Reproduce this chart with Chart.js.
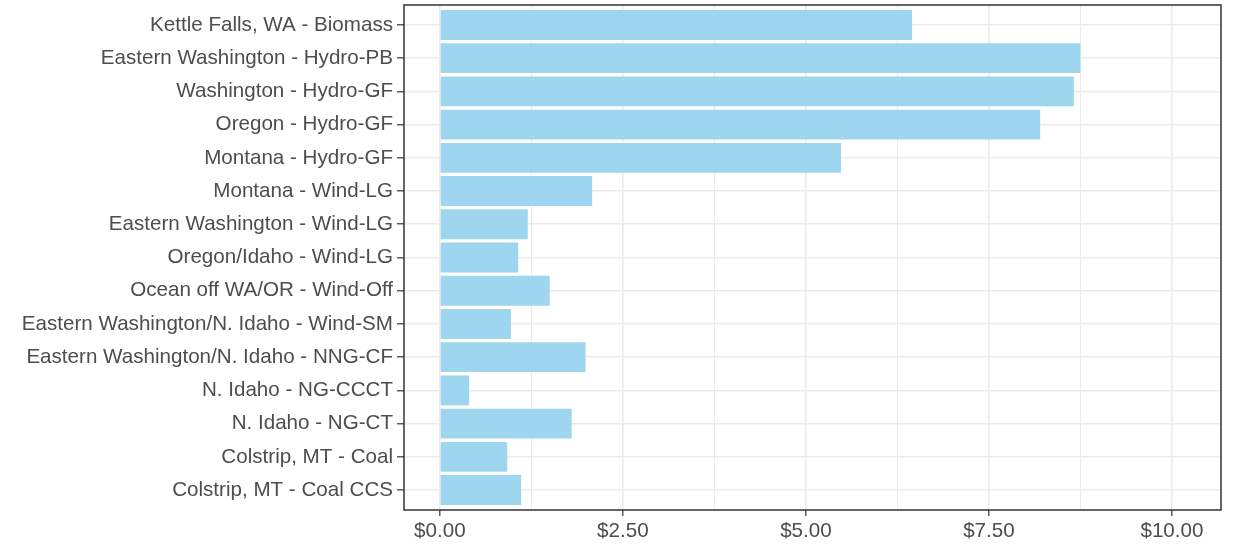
<!DOCTYPE html>
<html>
<head>
<meta charset="utf-8">
<script src="https://cdn.jsdelivr.net/npm/chart.js@4"></script>
<style>
  html, body { margin: 0; padding: 0; background: #ffffff; }
  #wrap { width: 1233px; height: 546px; position: relative; }
</style>
</head>
<body>
<div id="wrap"><canvas id="c" width="1233" height="546"></canvas></div>
<script>
// Resource categories, top to bottom
const categories = [
  'Kettle Falls, WA - Biomass',
  'Eastern Washington - Hydro-PB',
  'Washington - Hydro-GF',
  'Oregon - Hydro-GF',
  'Montana - Hydro-GF',
  'Montana - Wind-LG',
  'Eastern Washington - Wind-LG',
  'Oregon/Idaho - Wind-LG',
  'Ocean off WA/OR - Wind-Off',
  'Eastern Washington/N. Idaho - Wind-SM',
  'Eastern Washington/N. Idaho - NNG-CF',
  'N. Idaho - NG-CCCT',
  'N. Idaho - NG-CT',
  'Colstrip, MT - Coal',
  'Colstrip, MT - Coal CCS'
];

// Cost per resource (dollars)
const costs = [6.45, 8.75, 8.66, 8.20, 5.48, 2.08, 1.20, 1.07, 1.50, 0.97, 1.99, 0.40, 1.80, 0.92, 1.11];

// Major x ticks (labelled) and minor x grid positions
const majorTicks = [0, 2.5, 5, 7.5, 10];
const minorTicks = [1.25, 3.75, 6.25, 8.75];

const textColor = '#4d4d4d';
const gridColor = '#ebebeb';
const axisDark = '#333333';
const barColor = 'rgb(157,214,238)';
const labelFont = { family: 'Liberation Sans, Arial, sans-serif', size: 20.6 };

const isMajor = v => majorTicks.some(m => Math.abs(m - v) < 1e-9);

// Full panel outline drawn around the plotting area
const panelBorder = {
  id: 'panelBorder',
  afterDatasetsDraw(chart) {
    const a = chart.chartArea;
    const ctx = chart.ctx;
    ctx.save();
    ctx.strokeStyle = axisDark;
    ctx.lineWidth = 1.5;
    ctx.strokeRect(a.left, a.top, a.right - a.left, a.bottom - a.top);
    ctx.restore();
  }
};

new Chart(document.getElementById('c'), {
  type: 'bar',
  data: {
    datasets: [{
      data: costs.map((v, i) => ({ x: v, y: i })),
      backgroundColor: barColor,
      borderWidth: 0,
      categoryPercentage: 1.0,
      barPercentage: 0.9
    }]
  },
  options: {
    indexAxis: 'y',
    responsive: false,
    animation: false,
    layout: { padding: { top: 5, right: 12, left: 0, bottom: 0 } },
    plugins: { legend: { display: false }, tooltip: { enabled: false } },
    scales: {
      x: {
        type: 'linear',
        offset: false,
        min: -0.49,
        max: 10.67,
        afterBuildTicks: s => { s.ticks = [...majorTicks, ...minorTicks].sort((a, b) => a - b).map(v => ({ value: v })); },
        afterFit: s => { s.height = 36; s.paddingLeft = 0; s.paddingRight = 0; },
        border: { display: false },
        grid: {
          offset: false,
          color: gridColor,
          lineWidth: c => (c.tick && isMajor(c.tick.value)) ? 1.6 : 1,
          tickColor: c => (c.tick && isMajor(c.tick.value)) ? axisDark : 'rgba(0,0,0,0)',
          tickWidth: 1.2,
          tickLength: 6,
          drawTicks: true
        },
        ticks: {
          autoSkip: false,
          maxRotation: 0,
          padding: 3,
          color: textColor,
          font: labelFont,
          callback: v => isMajor(v) ? '$' + v.toFixed(2) : ''
        }
      },
      y: {
        type: 'linear',
        offset: false,
        reverse: true,
        min: -0.6,
        max: categories.length - 1 + 0.6,
        afterBuildTicks: s => { s.ticks = categories.map((_, i) => ({ value: i })); },
        afterFit: s => { s.width = 404; s.paddingTop = 0; s.paddingBottom = 0; },
        border: { display: false },
        grid: {
          offset: false,
          color: gridColor,
          lineWidth: 1.6,
          tickColor: axisDark,
          tickWidth: 1.2,
          tickLength: 7,
          drawTicks: true
        },
        ticks: {
          autoSkip: false,
          padding: 4,
          color: textColor,
          font: labelFont,
          callback: v => categories[v]
        }
      }
    }
  },
  plugins: [panelBorder]
});
</script>
</body>
</html>
